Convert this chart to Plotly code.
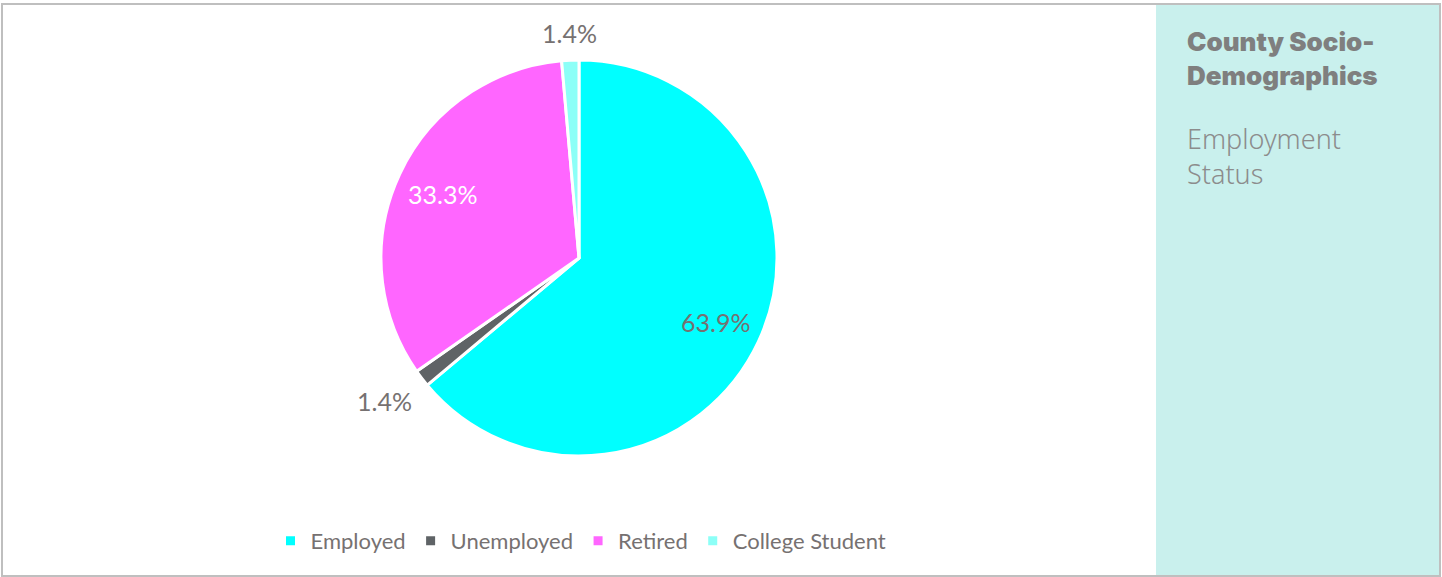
import math
import plotly.graph_objects as go

# Employment status shares (percent)
categories = ["Employed", "Unemployed", "Retired", "College Student"]
shares = [63.9, 1.4, 33.3, 1.4]
slice_colors = ["#00FFFF", "#5F6366", "#FF66FF", "#8CFFF7"]
label_inside = [True, False, True, False]
label_colors = ["#767171", "#767171", "#FFFFFF", "#767171"]

W, H = 1442, 577
cx, cy, r = 579, 258, 198

fig = go.Figure(
    go.Pie(
        labels=categories,
        values=shares,
        sort=False,
        direction="clockwise",
        rotation=0,
        marker=dict(colors=slice_colors, line=dict(color="#FFFFFF", width=3)),
        textinfo="none",
        hoverinfo="label+percent",
        domain=dict(x=[(cx - r) / W, (cx + r) / W], y=[1 - (cy + r) / H, 1 - (cy - r) / H]),
    )
)

# Data labels placed along each slice's bisector
annotations = []
total = sum(shares)
cum = 0.0
for share, inside, color in zip(shares, label_inside, label_colors):
    ang = math.radians(360.0 * (cum + share / 2) / total)
    cum += share
    s, c = math.sin(ang), math.cos(ang)
    f = 0.76 if inside else 1.05
    px = cx + f * r * s
    py = cy - f * r * c
    if inside:
        xa, ya = "center", "middle"
    else:
        xa = "right" if s < -0.3 else ("left" if s > 0.3 else "center")
        ya = "bottom" if c > 0.3 else ("top" if c < -0.3 else "middle")
    annotations.append(dict(
        text=f"{share:.1f}%", xref="paper", yref="paper",
        x=px / W, y=1 - py / H, xanchor=xa, yanchor=ya, showarrow=False,
        font=dict(family="Lato", size=25, color=color),
    ))

annotations += [
    dict(text="County Socio-<br>Demographics", xref="paper", yref="paper",
         x=1185 / W, y=1 - 24 / H, xanchor="left", yanchor="top", align="left",
         showarrow=False,
         font=dict(family="Inter", size=26, weight=900, color="#7F7F7F")),
    dict(text="Employment<br>Status", xref="paper", yref="paper",
         x=1185 / W, y=1 - 118 / H, xanchor="left", yanchor="top", align="left",
         showarrow=False,
         font=dict(family="Noto Sans", size=27, weight=300, color="#8C8C8C")),
]

fig.update_layout(
    width=W,
    height=H,
    margin=dict(l=0, r=0, t=0, b=0),
    paper_bgcolor="#FFFFFF",
    plot_bgcolor="#FFFFFF",
    showlegend=True,
    legend=dict(
        orientation="h",
        x=581 / W,
        xanchor="center",
        y=1 - 541 / H,
        yanchor="middle",
        font=dict(family="Lato", size=22, color="#767171"),
        itemwidth=30,
        traceorder="normal",
    ),
    shapes=[
        # side panel
        dict(type="rect", xref="paper", yref="paper",
             x0=1156 / W, x1=1439 / W, y0=2 / H, y1=1 - 5 / H,
             fillcolor="#C9F0ED", line=dict(width=0), layer="below"),
        # outer frame
        dict(type="rect", xref="paper", yref="paper",
             x0=2 / W, x1=1 - 2 / W, y0=1 / H, y1=1 - 4 / H,
             line=dict(color="#BFBFBF", width=2), fillcolor="rgba(0,0,0,0)"),
    ],
    annotations=annotations,
)

fig.write_html("out.html")
